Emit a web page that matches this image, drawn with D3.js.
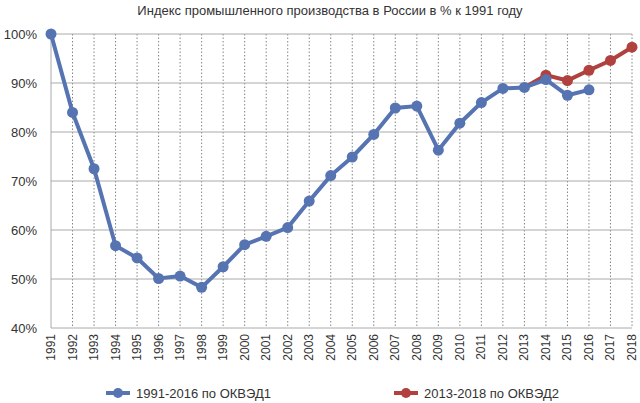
<!DOCTYPE html>
<html><head><meta charset="utf-8">
<script src="https://cdn.jsdelivr.net/npm/d3@7"></script>
<style>body{margin:0;background:#fff}text{font-family:"Liberation Sans",Arial,sans-serif}</style>
</head><body><svg id="c" width="640" height="403"></svg>
<script>
const years = d3.range(1991, 2019);
const okved1Years = d3.range(1991, 2017);
const okved1 = [100,84,72.5,56.8,54.3,50.1,50.6,48.3,52.5,57,58.7,60.5,65.9,71.1,74.9,79.5,84.9,85.3,76.3,81.8,86,88.9,89.1,90.7,87.5,88.6];
const okved2Years = [2013,2014,2015,2016,2017,2018];
const okved2 = [89.1,91.6,90.5,92.6,94.6,97.3];
const yTicks = [40,50,60,70,80,90,100];

const svg = d3.select("#c");
const L=51,R=632,T=34,B=328;
const x = d3.scalePoint().domain(years).range([L,R]);
const y = d3.scaleLinear().domain([40,100]).range([B,T]);

svg.append("text").attr("x",330).attr("y",15).attr("text-anchor","middle")
  .attr("font-size",13).attr("fill","#333").text("Индекс промышленного производства в России в % к 1991 году");

svg.selectAll(".v").data(years.slice(1)).enter().append("line")
  .attr("x1",d=>x(d)).attr("x2",d=>x(d)).attr("y1",T).attr("y2",B)
  .attr("stroke","#666").attr("stroke-width",0.8).attr("stroke-dasharray","1.5,2");
svg.selectAll(".h").data(yTicks).enter().append("line")
  .attr("x1",L).attr("x2",R).attr("y1",d=>y(d)).attr("y2",d=>y(d))
  .attr("stroke","#aaa").attr("stroke-width",1);
svg.append("line").attr("x1",L).attr("x2",L).attr("y1",T).attr("y2",B).attr("stroke","#aaa");

svg.selectAll(".yl").data(yTicks).enter().append("text")
  .attr("x",L-14).attr("y",d=>y(d)+5).attr("text-anchor","end")
  .attr("font-size",13).attr("fill","#333").text(d=>d+"%");
svg.selectAll(".xl").data(years).enter().append("text")
  .attr("transform",d=>`translate(${x(d)+4},${B+6}) rotate(-90)`)
  .attr("text-anchor","end").attr("font-size",12).attr("fill","#333").text(d=>d);

const line = d3.line().x(d=>x(d[0])).y(d=>y(d[1]));
const s2 = okved2Years.map((d,i)=>[d,okved2[i]]);
const s1 = okved1Years.map((d,i)=>[d,okved1[i]]);
const red="#b0413e", blue="#5574b1";
svg.append("path").datum(s2).attr("d",line).attr("fill","none").attr("stroke",red).attr("stroke-width",4);
svg.selectAll(".p2").data(s2.slice(1)).enter().append("circle").attr("cx",d=>x(d[0])).attr("cy",d=>y(d[1])).attr("r",5.5).attr("fill",red);
svg.append("path").datum(s1).attr("d",line).attr("fill","none").attr("stroke",blue).attr("stroke-width",4);
svg.selectAll(".p1").data(s1).enter().append("circle").attr("cx",d=>x(d[0])).attr("cy",d=>y(d[1])).attr("r",5.5).attr("fill",blue);

function leg(cx,col,txt){
  svg.append("line").attr("x1",cx-12).attr("x2",cx+12).attr("y1",393).attr("y2",393).attr("stroke",col).attr("stroke-width",4);
  svg.append("circle").attr("cx",cx).attr("cy",393).attr("r",5).attr("fill",col);
  svg.append("text").attr("x",cx+18).attr("y",398).attr("font-size",13).attr("fill","#333").text(txt);
}
leg(118,blue,"1991-2016 по ОКВЭД1");
leg(406,red,"2013-2018 по ОКВЭД2");
</script></body></html>
